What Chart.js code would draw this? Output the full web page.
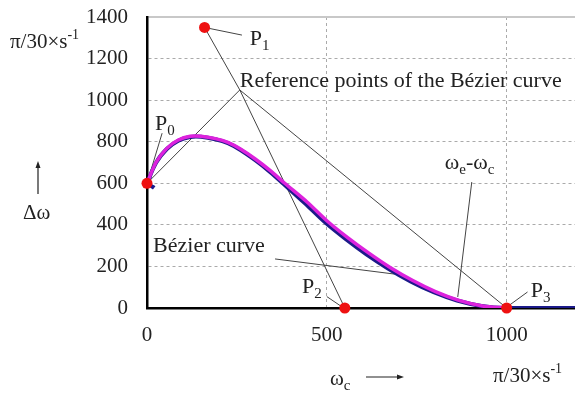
<!DOCTYPE html>
<html>
<head>
<meta charset="utf-8">
<script src="https://cdn.jsdelivr.net/npm/chart.js@4.4.1/dist/chart.umd.min.js"></script>
<style>
html,body{margin:0;padding:0;background:#fff;}
#wrap{width:575px;height:394px;}
</style>
</head>
<body>
<div id="wrap"><canvas id="c" width="575" height="394"></canvas></div>
<script>
// ---- data ----
const xTicks = [0, 500, 1000];
const yTicks = [0, 200, 400, 600, 800, 1000, 1200, 1400];

// Bézier curve (magenta)
const bezierX = [0, 25, 55, 87, 120, 150, 190, 225, 260, 300, 342, 383, 445, 500, 557, 616, 676, 739, 802, 867, 933, 1000];
const bezierY = [600, 700, 768, 808, 826, 826, 815, 797, 765, 718, 662, 600, 510, 420, 340, 265, 195, 132, 79, 37, 10, 0];

// ωe-ωc (dark blue)
const measX = [20, 4, 25, 55, 87, 120, 150, 190, 225, 260, 300, 342, 383, 440, 495, 552, 610, 670, 733, 797, 862, 930, 1000, 1190];
const measY = [578, 600, 698, 765, 805, 823, 824, 812, 793, 760, 712, 655, 592, 502, 412, 332, 258, 190, 128, 76, 36, 10, 0, 0];

// reference (control) points P0..P3
const ctrlX = [0, 160, 550, 1000];
const ctrlY = [600, 1350, 0, 0];

// annotation anchor of "Reference points of the Bézier curve"
const anchorX = 258, anchorY = 1049;

// leader lines [x1,y1,x2,y2]
const leaderP0 = [0, 600, 42, 841];
const leaderP1 = [165, 1348, 264, 1313];
const leaderP2 = [500, 55, 540, 8];
const leaderP3 = [1008, 14, 1058, 77];
const leaderBez = [356, 236, 689, 163];
const leaderMeas = [903, 606, 864, 53];

const toPts = (xs, ys) => xs.map((x, i) => ({x: x, y: ys[i]}));
const seg = a => [{x: a[0], y: a[1]}, {x: a[2], y: a[3]}];

const grayLine = (data) => ({
  data: data, showLine: true, borderColor: '#444', borderWidth: 1,
  pointRadius: 0, pointHoverRadius: 0, fill: false, order: 5
});

const datasets = [];
ctrlX.forEach((x, i) => datasets.push(grayLine([{x: anchorX, y: anchorY}, {x: x, y: ctrlY[i]}])));
[leaderP0, leaderP1, leaderP2, leaderP3, leaderBez, leaderMeas].forEach(l => datasets.push(grayLine(seg(l))));

datasets.push({
  data: toPts(measX, measY), showLine: true, borderColor: '#1c1a8a', borderWidth: 4,
  pointRadius: 0, tension: 0.3, fill: false, order: 4
});
datasets.push({
  data: toPts(bezierX, bezierY), showLine: true, borderColor: '#dd22dd', borderWidth: 3.5,
  pointRadius: 0, tension: 0.3, fill: false, order: 3
});
datasets.push({
  data: toPts(ctrlX, ctrlY), showLine: false, backgroundColor: '#ee1111', borderColor: '#ee1111',
  pointRadius: 5.5, borderWidth: 0, clip: false, order: 1
});

const FONT = "'Liberation Serif', 'Times New Roman', serif";

function rich(ctx, parts, x, y) {
  let cx = x;
  parts.forEach(p => {
    ctx.font = p[1] + 'px ' + FONT;
    ctx.fillText(p[0], cx, y + (p[2] || 0));
    cx += ctx.measureText(p[0]).width;
  });
}

const dataLabels = [
  {parts: [['P', 22], ['1', 15, 5]], x: 286, y: 1265},
  {parts: [['Reference points of the Bézier curve', 22]], x: 258, y: 1062},
  {parts: [['P', 22], ['0', 15, 5]], x: 22, y: 856},
  {parts: [['Bézier curve', 22]], x: 17, y: 270},
  {parts: [['ω', 22], ['e', 15, 5], ['-ω', 22], ['c', 15, 5]], x: 828, y: 668},
  {parts: [['P', 22], ['2', 15, 5]], x: 431, y: 72},
  {parts: [['P', 22], ['3', 15, 5]], x: 1067, y: 53}
];

const textPlugin = {
  id: 'texts',
  afterDraw(chart) {
    const ctx = chart.ctx;
    const sx = chart.scales.x, sy = chart.scales.y;
    ctx.save();
    ctx.fillStyle = '#222';
    ctx.textBaseline = 'alphabetic';
    ctx.textAlign = 'left';
    dataLabels.forEach(l => rich(ctx, l.parts, sx.getPixelForValue(l.x), sy.getPixelForValue(l.y)));
    // axis titles
    rich(ctx, [['π/30×s', 21], ['-1', 14, -9]], 10, 48);
    rich(ctx, [['Δω', 21]], 23, 219);
    rich(ctx, [['ω', 21], ['c', 15, 5]], 330, 385);
    rich(ctx, [['π/30×s', 21], ['-1', 14, -9]], 493, 382);
    // arrows
    ctx.strokeStyle = '#222';
    ctx.lineWidth = 1.2;
    ctx.beginPath();
    ctx.moveTo(38, 194); ctx.lineTo(38, 167);
    ctx.moveTo(366, 377); ctx.lineTo(398, 377);
    ctx.stroke();
    ctx.beginPath();
    ctx.moveTo(38, 161); ctx.lineTo(35.5, 168); ctx.lineTo(40.5, 168); ctx.closePath();
    ctx.moveTo(404, 377); ctx.lineTo(397, 374.5); ctx.lineTo(397, 379.5); ctx.closePath();
    ctx.fill();
    ctx.restore();
  }
};

new Chart(document.getElementById('c'), {
  type: 'scatter',
  data: {datasets: datasets},
  plugins: [textPlugin],
  options: {
    responsive: false,
    devicePixelRatio: 1,
    animation: false,
    layout: {autoPadding: false, padding: {top: 17, right: 0, left: 0, bottom: 0}},
    plugins: {legend: {display: false}, tooltip: {enabled: false}},
    scales: {
      x: {
        type: 'linear', min: 0, max: 1190,
        afterBuildTicks: s => { s.ticks = xTicks.map(v => ({value: v})); },
        afterFit: s => { s.height = 86; s.paddingLeft = 0; s.paddingRight = 0; },
        ticks: {font: {family: FONT, size: 21}, color: '#222', padding: 15, maxRotation: 0, callback: v => String(v)},
        grid: {color: c => (c.tick && c.tick.value === 0) ? 'rgba(0,0,0,0)' : '#aaa', lineWidth: 1, drawTicks: false},
        border: {color: '#000', width: 2.5, dash: [3, 3]}
      },
      y: {
        type: 'linear', min: 0, max: 1400,
        afterBuildTicks: s => { s.ticks = yTicks.map(v => ({value: v})); },
        afterFit: s => { s.width = 147; s.paddingTop = 0; s.paddingBottom = 0; },
        ticks: {font: {family: FONT, size: 21}, color: '#222', padding: 19, callback: v => String(v)},
        grid: {
          color: c => (c.tick && c.tick.value === 0) ? 'rgba(0,0,0,0)' : (c.tick && c.tick.value === 1400 ? '#c8c8c8' : '#aaa'),
          lineWidth: c => (c.tick && c.tick.value === 1400) ? 2 : 1,
          drawTicks: false
        },
        border: {color: '#000', width: 2.5, dash: c => (c.tick && c.tick.value === 1400) ? [] : [3, 3]}
      }
    }
  }
});
</script>
</body>
</html>
